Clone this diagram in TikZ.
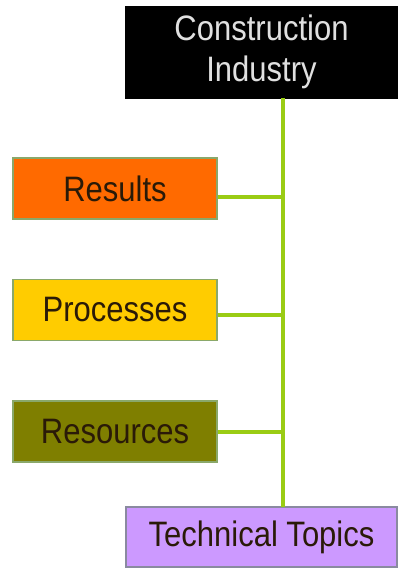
\documentclass[tikz,border=0pt]{standalone}
\usepackage{fontspec}
\usepackage{graphicx}
\setmainfont{Liberation Sans}
\definecolor{trunkgreen}{HTML}{9ACC14}
\definecolor{edgegreen}{HTML}{8AA86A}
\definecolor{resultsfill}{HTML}{FF6A00}
\definecolor{processfill}{HTML}{FFCC00}
\definecolor{resourcefill}{HTML}{7F7F00}
\definecolor{topicfill}{HTML}{CC99FF}
\definecolor{topicedge}{HTML}{8A8AA0}
\definecolor{darktext}{HTML}{2A1A08}
% labels are set slightly taller than the font's natural shape
\newcommand{\talllabel}[1]{\scalebox{1}[1.14]{#1}}
\begin{document}
\begin{tikzpicture}[x=1pt,y=-1pt,
  box/.style={rectangle,draw=edgegreen,line width=1.2pt,inner sep=0pt,
    font=\fontsize{31}{36}\selectfont,text=darktext},
  sidebox/.style={box,minimum width=204pt,minimum height=61pt},
  widebox/.style={box,minimum width=271pt},
  link/.style={draw=trunkgreen,line width=4pt}]
\useasboundingbox[fill=white] (0,0) rectangle (398,572);

% top and bottom boxes
\node[widebox,minimum height=91pt,fill=black,draw=black,text=white!88!black]
  (top) at (261.5,52.5) {\talllabel{\begin{tabular}{@{}c@{}}Construction\\Industry\end{tabular}}};
\node[widebox,minimum height=60pt,fill=topicfill,draw=topicedge]
  (topics) at (261.5,537) {\talllabel{Technical Topics}};

% side boxes
\node[sidebox,fill=resultsfill] (results) at (115,188.5) {\talllabel{Results}};
\node[sidebox,fill=processfill] (processes) at (115,310) {\talllabel{Processes}};
\node[sidebox,fill=resourcefill] (resources) at (115,431.5) {\talllabel{Resources}};

% trunk line
\coordinate (trunktop) at (283,98);
\coordinate (trunkbot) at (283,507);
\draw[link] (trunktop) -- (trunkbot);

% branches to the trunk
\draw[link] ([yshift=-8pt]results.east) -- ([yshift=-8pt]results.east -| trunktop);
\draw[link] ([yshift=-5pt]processes.east) -- ([yshift=-5pt]processes.east -| trunktop);
\draw[link] (resources.east) -- (resources.east -| trunktop);
\end{tikzpicture}
\end{document}
